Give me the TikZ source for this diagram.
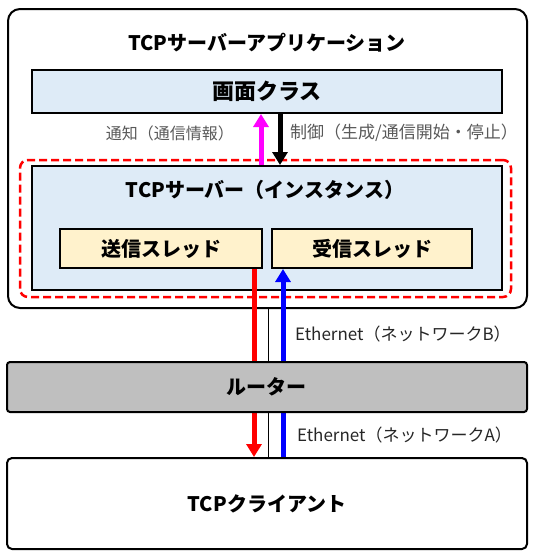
\documentclass[tikz,border=0pt]{standalone}
\usepackage{fontspec}
\setmainfont{Noto Sans CJK JP}
\usetikzlibrary{arrows.meta,positioning}
\definecolor{paleblue}{HTML}{DEEBF7}
\definecolor{paleyellow}{HTML}{FFF2CC}
\definecolor{routergray}{HTML}{BFBFBF}
\definecolor{notegray}{HTML}{595959}
\definecolor{notify}{HTML}{FF00FF}

\begin{document}
\begin{tikzpicture}[x=1pt,y=-1pt,
    box/.style={draw,line width=2pt,inner sep=0pt},
    boxtitle/.style={font=\fontsize{20}{24}\selectfont\bfseries},
    note/.style={font=\fontsize{17}{20}\selectfont,text=notegray,inner sep=0pt},
    flow/.style={line width=5pt,-{Triangle[width=15pt,length=13pt]}}]
  \useasboundingbox (0,0) rectangle (536,557);
  % application and its parts
  \node[box,rounded corners=12pt,minimum width=519pt,minimum height=299pt] (app) at (267.5,158.5) {};
  \node[boxtitle] (apptitle) at (267,43) {TCPサーバーアプリケーション};
  \node[box,fill=paleblue,minimum width=470pt,minimum height=43pt,boxtitle,
    font=\fontsize{22}{26}\selectfont\bfseries] (screen) at (267,91.5) {画面クラス};
  \node[draw=red,line width=2.5pt,dash pattern=on 8pt off 4pt,rounded corners=8pt,
    minimum width=491pt,minimum height=137pt] (inst) at (265.5,228.5) {};
  \node[box,fill=paleblue,minimum width=470pt,minimum height=124pt] (server) at (267,228) {};
  \node[boxtitle] (servertitle) at (265,190) {TCPサーバー（インスタンス）};
  \node[box,fill=paleyellow,minimum width=202pt,minimum height=39pt,boxtitle] (send) at (161,248.5) {送信スレッド};
  \node[box,fill=paleyellow,minimum width=200pt,minimum height=39pt,boxtitle] (recv) at (372,248.5) {受信スレッド};
  \node[box,rounded corners=5pt,minimum width=520pt,minimum height=91pt,boxtitle] (client) at (267,503.5) {TCPクライアント};
  % x positions of the vertical lines
  \coordinate (notex) at (261,0);
  \coordinate (ctrlx) at (280,0);
  \coordinate (sendx) at (254,0);
  \coordinate (recvx) at (283,0);
  \coordinate (cablex) at (268,0);
  \draw[flow,notify] (server.north -| notex) -- (screen.south -| notex);
  \draw[flow,black] (screen.south -| ctrlx) -- (server.north -| ctrlx);
  \draw[line width=0.8pt] (app.south -| cablex) -- (client.north -| cablex);
  \draw[flow,red] (send.south -| sendx) -- (client.north -| sendx);
  \draw[flow,blue] (client.north -| recvx) -- (recv.south -| recvx);
  % router on top of the lines
  \node[box,fill=routergray,rounded corners=3pt,minimum width=520pt,minimum height=50pt] (router) at (267,387) {};
  \node[boxtitle] (routertitle) at (266,387) {ルーター};
  % labels
  \node[note,anchor=east,font=\fontsize{16}{19}\selectfont] (notelabel) at (234,133) {通知（通信情報）};
  \node[note,anchor=west] (ctrllabel) at (290,133) {制御（生成/通信開始・停止）};
  \node[note,anchor=west,text=black!85] (netb) at (295,334) {Ethernet（ネットワークB）};
  \node[note,anchor=west,text=black!85] (neta) at (297,435) {Ethernet（ネットワークA）};
\end{tikzpicture}
\end{document}
